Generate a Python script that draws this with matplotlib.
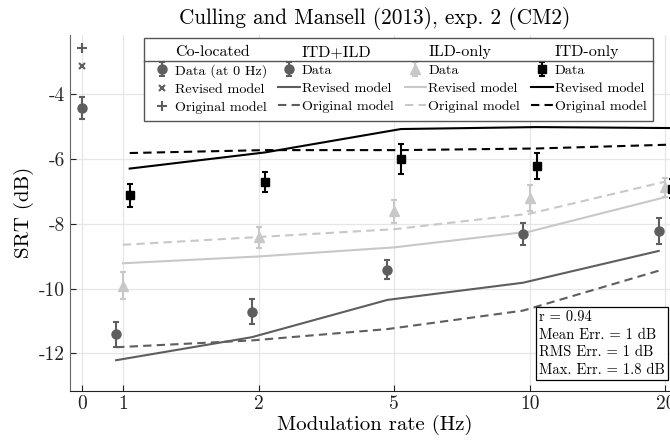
import numpy as np
import matplotlib
matplotlib.use('Agg')
import matplotlib.pyplot as plt
from matplotlib.lines import Line2D

plt.rcParams['font.family'] = 'cmr10'
plt.rcParams['mathtext.fontset'] = 'cm'
plt.rcParams['axes.unicode_minus'] = False
plt.rcParams['axes.formatter.use_mathtext'] = True

# modulation rates (Hz) and their category positions on the x axis
rates = ['0', '1', '2', '5', '10', '20']
rate_pos = [0.7, 1, 2, 3, 4, 5]
xp = np.array(rate_pos[1:])

# co-located (0 Hz)
coloc_data, coloc_err = -4.43, 0.33
coloc_revised = -3.15
coloc_original = -2.58

# ITD+ILD
itdild_data = [-11.41, -10.71, -9.42, -8.31, -8.22]
itdild_err = [0.38, 0.38, 0.30, 0.34, 0.41]
itdild_revised = [-12.21, -11.50, -10.35, -9.82, -8.84]
itdild_original = [-11.81, -11.60, -11.25, -10.68, -9.45]

# ILD-only
ild_data = [-9.91, -8.42, -7.62, -7.22, -6.88]
ild_err = [0.41, 0.32, 0.36, 0.40, 0.30]
ild_revised = [-9.22, -9.01, -8.73, -8.24, -7.18]
ild_original = [-8.65, -8.41, -8.17, -7.69, -6.70]

# ITD-only
itd_data = [-7.12, -6.72, -6.01, -6.21, -6.92]
itd_err = [0.36, 0.30, 0.47, 0.40, 0.30]
itd_revised = [-6.30, -5.80, -5.08, -5.02, -5.05]
itd_original = [-5.82, -5.73, -5.73, -5.68, -5.56]

stats = ['r = 0.94', 'Mean Err. = 1 dB', 'RMS Err. = 1 dB', 'Max. Err. = 1.8 dB']

c_dark = '#5e5e5e'
c_light = '#c8c8c8'
c_black = '#000000'
dash = (0, (4, 2.5))
off = 0.05

fig = plt.figure(figsize=(6.7, 4.41), dpi=100)
ax = fig.add_axes([70/670, 1-390.7/441, 609/670, 355.7/441])

# co-located
h_cd = ax.errorbar(rate_pos[0], coloc_data, yerr=coloc_err, fmt='o', color=c_dark,
                   ms=6.5, capsize=2, elinewidth=1.5, capthick=1.5)
h_cr, = ax.plot(rate_pos[0], coloc_revised, 'x', color=c_dark, ms=5, mew=1.5)
h_co, = ax.plot(rate_pos[0], coloc_original, '+', color=c_dark, ms=7, mew=1.5)

# ITD+ILD
h_2r, = ax.plot(xp - off, itdild_revised, '-', color=c_dark, lw=1.5)
h_2o, = ax.plot(xp - off, itdild_original, linestyle=dash, color=c_dark, lw=1.5)
h_2d = ax.errorbar(xp - off, itdild_data, yerr=itdild_err, fmt='o', color=c_dark,
                   ms=6.5, capsize=2, elinewidth=1.5, capthick=1.5)

# ILD-only
h_3r, = ax.plot(xp, ild_revised, '-', color=c_light, lw=1.5)
h_3o, = ax.plot(xp, ild_original, linestyle=dash, color=c_light, lw=1.5)
h_3d = ax.errorbar(xp, ild_data, yerr=ild_err, fmt='^', color=c_light,
                   ms=7.5, capsize=2, elinewidth=1.5, capthick=1.5)

# ITD-only
h_4r, = ax.plot(xp + off, itd_revised, '-', color=c_black, lw=1.5)
h_4o, = ax.plot(xp + off, itd_original, linestyle=dash, color=c_black, lw=1.5)
h_4d = ax.errorbar(xp + off, itd_data, yerr=itd_err, fmt='s', color=c_black,
                   ms=6, capsize=2, elinewidth=1.5, capthick=1.5)

ax.set_xlim(0.61, 5.10)
ax.set_ylim(-13.15, -2.18)
ax.set_xticks(rate_pos)
ax.set_xticklabels(rates)
yt = [-12, -10, -8, -6, -4]
ax.set_yticks(yt)
ax.set_yticklabels([str(v) for v in yt])
ax.tick_params(direction='in', length=4, labelsize=14, colors='#222222')
ax.grid(True, color='#e6e6e6', lw=0.9)
ax.set_axisbelow(True)
for s in ['top', 'right']:
    ax.spines[s].set_visible(False)
ax.spines['left'].set_color('#666666')
ax.spines['bottom'].set_color('#222222')

ax.set_xlabel('Modulation rate (Hz)', fontsize=15, labelpad=1)
ax.set_ylabel('SRT (dB)', fontsize=15, labelpad=4)
ax.set_title('Culling and Mansell (2013), exp. 2 (CM2)', fontsize=15.3, pad=8)

blank = Line2D([], [], color='none')
handles = [blank, h_cd, h_cr, h_co,
           blank, h_2d, h_2r, h_2o,
           blank, h_3d, h_3r, h_3o,
           blank, h_4d, h_4r, h_4o]
labels = ['Co-located', 'Data (at 0 Hz)', 'Revised model', 'Original model',
          'ITD+ILD', 'Data', 'Revised model', 'Original model',
          'ILD-only', 'Data', 'Revised model', 'Original model',
          'ITD-only', 'Data', 'Revised model', 'Original model']
leg = ax.legend(handles, labels, ncol=4, loc='upper left',
                bbox_to_anchor=((144.3-70)/609, (390.7-37.7)/355.7),
                borderaxespad=0, fontsize=10.2, handlelength=1.5, handletextpad=0.15,
                columnspacing=0.8, labelspacing=0.36, borderpad=0.5,
                fancybox=False, framealpha=1, edgecolor='#555555')
leg.get_frame().set_linewidth(1.0)
for i in [0, 4, 8, 12]:
    leg.get_texts()[i].set_fontsize(11.5)

# separator under the column headers
fig.canvas.draw()
r = fig.canvas.get_renderer()
lb = leg.get_window_extent(r)
t0 = leg.get_texts()[0].get_window_extent(r)
t1 = leg.get_texts()[1].get_window_extent(r)
ysep = (t0.y0 + t1.y1) / 2
inv = fig.transFigure.inverted()
(x0, y0), (x1, _) = inv.transform([(lb.x0, ysep), (lb.x1, ysep)])
fig.add_artist(Line2D([x0, x1], [y0, y0], color='#555555', lw=1.0, transform=fig.transFigure))

ax.text(0.770, 0.038, '\n'.join(stats), transform=ax.transAxes, fontsize=10.5,
        ha='left', va='bottom', linespacing=1.38,
        bbox=dict(boxstyle='square,pad=0.2', fc='white', ec='black', lw=0.9))

fig.savefig('out.png', dpi=100)
